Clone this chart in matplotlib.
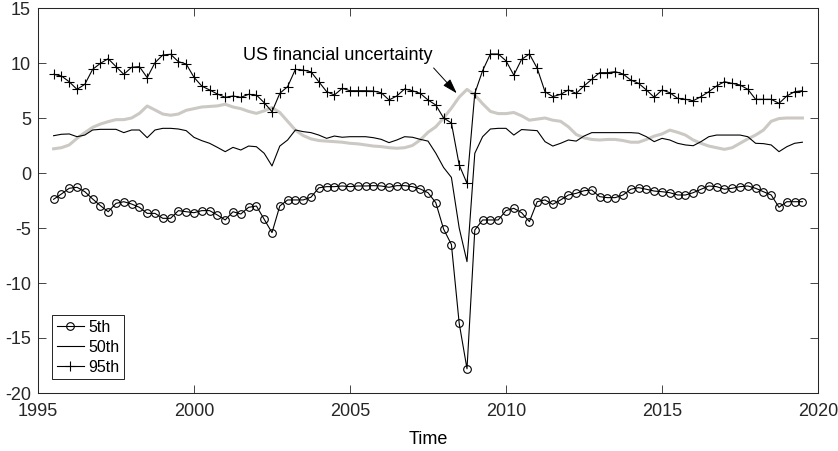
import numpy as np
import matplotlib
matplotlib.use("Agg")
import matplotlib.pyplot as plt

plt.rcParams.update({
    "font.family": ["Liberation Sans", "DejaVu Sans"],
    "font.size": 13,
    "axes.linewidth": 0.75,
    "axes.edgecolor": "#262626",
    "xtick.color": "#262626",
    "ytick.color": "#262626",
    "axes.unicode_minus": False,
})

# quarterly, 1995Q3 .. 2019Q3
t_start, n_q = 1995.5, 97
time = t_start + 0.25 * np.arange(n_q)

p5 = [-2.39, -1.91, -1.39, -1.30, -1.70, -2.36, -2.97, -3.52, -2.76, -2.61,
      -2.82, -3.12, -3.67, -3.67, -4.12, -4.12, -3.42, -3.52, -3.61, -3.42,
      -3.42, -3.82, -4.27, -3.52, -3.73, -3.12, -3.00, -4.21, -5.42, -3.00,
      -2.45, -2.45, -2.45, -2.20, -1.35, -1.24, -1.24, -1.18, -1.24, -1.18,
      -1.18, -1.15, -1.18, -1.30, -1.15, -1.15, -1.24, -1.45, -1.79, -2.70,
      -5.10, -6.50, -13.67, -17.80, -5.18, -4.27, -4.27, -4.27, -3.42, -3.21,
      -3.61, -4.42, -2.61, -2.45, -2.85, -2.45, -2.00, -1.85, -1.61, -1.55,
      -2.15, -2.24, -2.24, -2.00, -1.48, -1.33, -1.48, -1.64, -1.70, -1.79,
      -2.00, -2.00, -1.79, -1.48, -1.18, -1.24, -1.48, -1.39, -1.24, -1.18,
      -1.39, -1.70, -2.00, -3.12, -2.61, -2.61, -2.61]

p50 = [3.39, 3.52, 3.55, 3.30, 3.45, 3.91, 3.97, 3.97, 3.97, 3.67,
       3.91, 3.91, 3.21, 3.91, 4.06, 4.06, 4.00, 3.85, 3.24, 2.94,
       2.70, 2.33, 1.94, 2.33, 2.09, 2.45, 2.39, 1.79, 0.64, 2.45,
       3.00, 3.91, 3.76, 3.67, 3.45, 3.15, 3.36, 3.25, 3.30, 3.30,
       3.30, 3.21, 3.06, 2.76, 3.00, 3.30, 3.25, 3.06, 2.90, 1.80,
       0.50, -0.40, -5.00, -8.06, 1.79, 3.30, 4.00, 4.06, 4.06, 3.45,
       3.95, 3.90, 3.85, 2.85, 2.45, 2.70, 3.00, 2.90, 3.36, 3.67,
       3.67, 3.67, 3.67, 3.67, 3.67, 3.62, 3.30, 2.85, 3.15, 3.00,
       2.70, 2.55, 2.48, 2.85, 3.30, 3.45, 3.45, 3.45, 3.45, 3.30,
       2.70, 2.67, 2.55, 1.94, 2.39, 2.70, 2.80]

p95 = [8.97, 8.82, 8.30, 7.60, 8.06, 9.42, 9.97, 10.39, 9.67, 8.97,
       9.61, 9.67, 8.67, 10.03, 10.73, 10.79, 10.12, 9.91, 8.70, 7.90,
       7.55, 7.18, 6.88, 7.00, 6.88, 7.15, 7.09, 6.39, 5.57, 7.24,
       7.85, 9.42, 9.36, 9.20, 8.30, 7.40, 7.09, 7.70, 7.48, 7.48,
       7.48, 7.45, 7.30, 6.64, 7.00, 7.64, 7.48, 7.24, 6.64, 6.18,
       5.00, 4.55, 0.73, -0.94, 7.24, 9.30, 10.82, 10.82, 10.20, 8.90,
       10.33, 10.82, 9.52, 7.39, 6.94, 7.15, 7.55, 7.24, 7.91, 8.52,
       9.12, 9.12, 9.21, 9.00, 8.45, 8.15, 7.55, 6.88, 7.55, 7.30,
       6.79, 6.70, 6.57, 6.94, 7.39, 7.91, 8.30, 8.15, 8.00, 7.61,
       6.70, 6.70, 6.70, 6.33, 7.00, 7.39, 7.48]

# US financial uncertainty (grey)
unc = [2.20, 2.30, 2.55, 3.15, 3.67, 4.15, 4.45, 4.67, 4.85, 4.85,
       5.00, 5.42, 6.09, 5.73, 5.36, 5.25, 5.36, 5.70, 5.85, 6.00,
       6.05, 6.10, 6.25, 6.00, 5.85, 5.60, 5.42, 5.65, 5.95, 5.50,
       4.70, 3.90, 3.40, 3.10, 2.95, 2.90, 2.85, 2.80, 2.70, 2.65,
       2.55, 2.45, 2.40, 2.30, 2.25, 2.30, 2.50, 3.00, 3.70, 4.20,
       5.00, 5.90, 6.90, 7.60, 7.10, 6.30, 5.60, 5.40, 5.40, 5.50,
       5.20, 4.80, 4.90, 5.00, 4.80, 4.70, 4.20, 3.50, 3.20, 3.05,
       3.00, 3.05, 3.05, 2.95, 2.80, 2.80, 3.05, 3.35, 3.55, 3.90,
       3.70, 3.45, 3.00, 2.70, 2.45, 2.30, 2.15, 2.30, 2.70, 3.10,
       3.45, 3.90, 4.70, 4.95, 5.00, 5.00, 5.00]

fig = plt.figure(figsize=(8.38, 4.51), dpi=100)
ax = fig.add_axes([38 / 838, 58 / 451, 780 / 838, 385 / 451])

ax.plot(time, unc, color=(0.80, 0.79, 0.77), lw=2.2)
ax.plot(time, p5, 'k-o', lw=0.8, ms=5.5, mfc='none', mew=0.8, label='5th')
ax.plot(time, p50, 'k-', lw=0.8, label='50th')
ax.plot(time, p95, 'k-+', lw=0.8, ms=6.5, mew=0.8, label='95th')

ax.text(2007.64, 10.68, 'US financial uncertainty', ha='right', va='center',
        fontsize=13)
ax.annotate('', xy=(2008.42, 7.25), xytext=(2007.68, 9.55),
            arrowprops=dict(arrowstyle='-|>,head_length=0.7,head_width=0.22',
                            color='k', lw=0.7, shrinkA=0, shrinkB=0))

ax.set_xlim(1995, 2020)
ax.set_ylim(-20, 15)
ax.set_xticks(np.arange(1995, 2021, 5))
ax.set_yticks(np.arange(-20, 16, 5))
ax.tick_params(direction='in', length=5.8, width=0.6, top=True, right=True,
               labelsize=13)
ax.tick_params(axis='x', pad=7)
ax.tick_params(axis='y', pad=5)
ax.set_xlabel('Time', fontsize=13, labelpad=8)

leg = ax.legend(loc='lower left', bbox_to_anchor=(0.0176, 0.0356),
                borderaxespad=0, fancybox=False, framealpha=1,
                edgecolor='k', fontsize=11.5, handlelength=1.75,
                handletextpad=0.25, labelspacing=0.3, borderpad=0.3)
leg.get_frame().set_linewidth(0.6)

fig.savefig('out.png', dpi=100)
